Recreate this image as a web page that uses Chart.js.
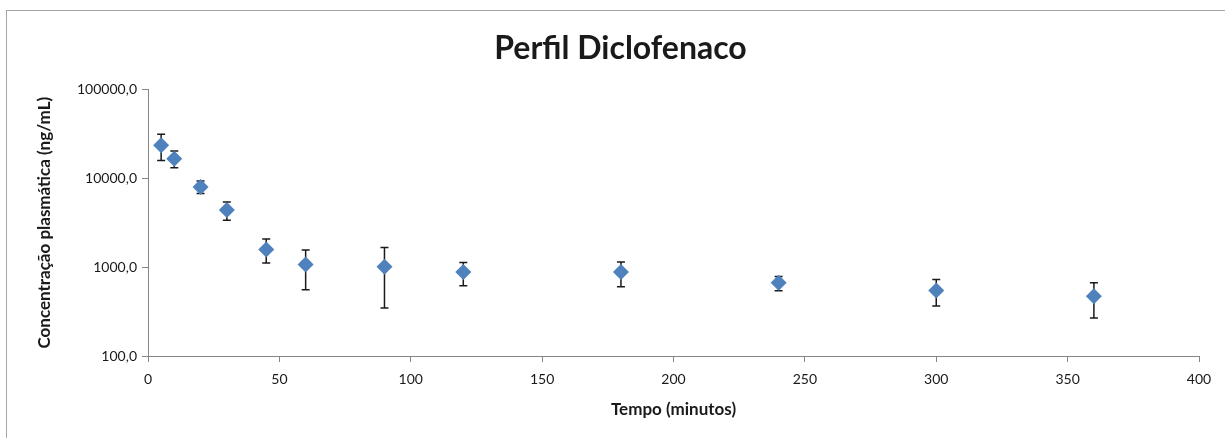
<!DOCTYPE html>
<html>
<head>
<meta charset="utf-8">
<script src="https://cdn.jsdelivr.net/npm/chart.js@4/dist/chart.umd.min.js"></script>
<style>
    html, body { margin: 0; padding: 0; background: #fff; }
    #wrap { position: relative; width: 1225px; height: 438px; }
    #frame {
        position: absolute; left: 6px; top: 10px; right: 0; bottom: 0;
        border-left: 1px solid #a6a6a6; border-top: 1px solid #a6a6a6;
        pointer-events: none;
    }
    canvas { position: absolute; left: 0; top: 0; }
</style>
</head>
<body>
<div id="wrap">
    <canvas id="chart" width="1225" height="438"></canvas>
    <div id="frame"></div>
</div>
<script>
// dados
const tempo = [5, 10, 20, 30, 45, 60, 90, 120, 180, 240, 300, 360];
const concentracao = [23500, 16600, 7980, 4400, 1580, 1070, 1010, 879, 879, 667, 547, 469];
const erroSuperior = [31200, 20300, 9330, 5420, 2070, 1560, 1660, 1130, 1140, 787, 728, 667];
const erroInferior = [15800, 13100, 6730, 3370, 1110, 556, 346, 617, 601, 542, 365, 267];
const yTicks = [100, 1000, 10000, 100000];

const FONT = 'Lato, "Open Sans", sans-serif';

// error bars drawn from the y scale
const errorBars = {
    id: 'errorBars',
    beforeDatasetsDraw(chart) {
        const ctx = chart.ctx;
        const xs = chart.scales.x;
        const ys = chart.scales.y;
        ctx.save();
        ctx.strokeStyle = '#1a1a1a';
        ctx.lineWidth = 1.5;
        tempo.forEach((t, i) => {
            const x = xs.getPixelForValue(t);
            const yTop = ys.getPixelForValue(erroSuperior[i]);
            const yBot = ys.getPixelForValue(erroInferior[i]);
            ctx.beginPath();
            ctx.moveTo(x, yTop);
            ctx.lineTo(x, yBot);
            ctx.moveTo(x - 4, yTop);
            ctx.lineTo(x + 4, yTop);
            ctx.moveTo(x - 4, yBot);
            ctx.lineTo(x + 4, yBot);
            ctx.stroke();
        });
        ctx.restore();
    }
};

const ctx = document.getElementById('chart');
new Chart(ctx, {
    type: 'scatter',
    data: {
        datasets: [{
            label: 'Diclofenaco',
            data: tempo.map((t, i) => ({ x: t, y: concentracao[i] })),
            pointStyle: 'rectRot',
            pointRadius: 8,
            pointBackgroundColor: '#4f81bd',
            pointBorderColor: '#4f81bd',
            pointBorderWidth: 0
        }]
    },
    options: {
        responsive: false,
        animation: false,
        layout: { padding: { left: 42, right: 26, top: 0, bottom: 0 } },
        plugins: {
            legend: { display: false },
            tooltip: { enabled: false },
            title: {
                display: true,
                text: 'Perfil Diclofenaco',
                color: '#1a1a1a',
                font: { family: FONT, size: 32, weight: 'bold' },
                padding: { top: 29, bottom: 22 }
            }
        },
        scales: {
            x: {
                type: 'linear',
                min: 0,
                max: 400,
                ticks: {
                    stepSize: 50,
                    color: '#1a1a1a',
                    font: { family: FONT, size: 14 },
                    padding: 9,
                    maxRotation: 0
                },
                grid: { drawOnChartArea: false, tickLength: 6, color: '#868686' },
                border: { color: '#868686' },
                title: {
                    display: true,
                    text: 'Tempo (minutos)',
                    color: '#1a1a1a',
                    font: { family: FONT, size: 17, weight: 'bold' },
                    padding: { top: 4, bottom: 18 }
                },
                afterFit(scale) { scale.height = 82; }
            },
            y: {
                type: 'logarithmic',
                min: 100,
                max: 100000,
                afterBuildTicks(scale) {
                    scale.ticks = yTicks.map(v => ({ value: v }));
                },
                ticks: {
                    color: '#1a1a1a',
                    font: { family: FONT, size: 14 },
                    padding: 5,
                    callback: v => v.toFixed(1).replace('.', ',')
                },
                grid: { drawOnChartArea: false, tickLength: 6, color: '#868686' },
                border: { color: '#868686' },
                title: {
                    display: true,
                    text: 'Concentração plasmática (ng/mL)',
                    color: '#1a1a1a',
                    font: { family: FONT, size: 17, weight: 'bold' },
                    padding: { top: -8, bottom: 4 }
                },
                afterFit(scale) { scale.width = 106; }
            }
        }
    },
    plugins: [errorBars]
});
</script>
</body>
</html>
